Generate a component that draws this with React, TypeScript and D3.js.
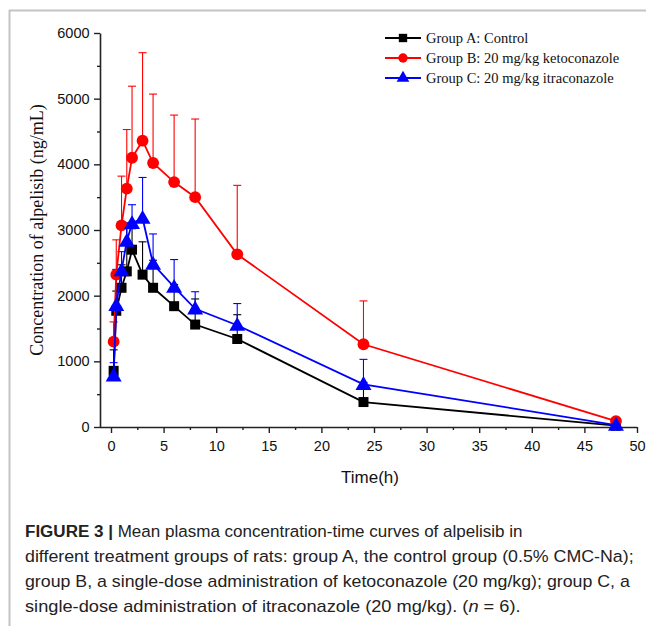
import React, { useEffect, useRef } from 'react';
import * as d3 from 'd3';

// sampling times (h)
const times = [0.25, 0.5, 1, 1.5, 2, 3, 4, 6, 8, 12, 24, 48];

// mean concentrations (ng/mL) and SD
const groupA = [855, 1770, 2120, 2370, 2700, 2320, 2120, 1840, 1560, 1340, 380, 20];
const groupAsd = [320, 300, 350, 730, 320, 500, 420, 330, 390, 370, 300, 10];
const groupB = [1300, 2320, 3070, 3630, 4100, 4360, 4020, 3730, 3500, 2630, 1260, 90];
const groupBsd = [300, 530, 750, 900, 1090, 1340, 1050, 1020, 1190, 1050, 660, 0];
const groupC = [780, 1850, 2380, 2830, 3100, 3180, 2480, 2130, 1800, 1550, 650, 30];
const groupCsd = [200, 550, 290, 280, 285, 620, 460, 420, 260, 330, 380, 10];

const legendLabels = [
	'Group A: Control',
	'Group B: 20 mg/kg ketoconazole',
	'Group C: 20 mg/kg itraconazole',
];
const colors = ['#000000', '#ff0000', '#0000ff'];
const shapes = [d3.symbolSquare, d3.symbolCircle, d3.symbolTriangle];
const symbolSizes = [100, 110, 110];

const xTicks = [0, 5, 10, 15, 20, 25, 30, 35, 40, 45, 50];
const yTicks = [0, 1000, 2000, 3000, 4000, 5000, 6000];

const captionLines = [
	'Mean plasma concentration-time curves of alpelisib in',
	'different treatment groups of rats: group A, the control group (0.5% CMC-Na);',
	'group B, a single-dose administration of ketoconazole (20 mg/kg); group C, a',
	'single-dose administration of itraconazole (20 mg/kg). (',
];
// right end of each caption line in the figure
const captionEnds = [523, 634, 630, 521];

const App = () => {
	const chart = useRef<SVGSVGElement>(null);

	useEffect(() => {
		const svg = d3.select(chart.current);
		svg.selectAll('*').remove();

		const x = d3.scaleLinear().domain([0, 50]).range([111, 637]);
		const y = d3.scaleLinear().domain([0, 6000]).range([427, 33]);

		// frame
		svg.append('line').attr('x1', 9.5).attr('x2', 9.5).attr('y1', 10).attr('y2', 626)
			.attr('stroke', '#c4c4c4').attr('stroke-width', 2);
		svg.append('line').attr('x1', 9).attr('x2', 646).attr('y1', 10.5).attr('y2', 10.5)
			.attr('stroke', '#c4c4c4').attr('stroke-width', 2);

		const g = svg.append('g');

		// axes
		const xAxis = d3.axisBottom(x).tickValues(xTicks).tickSize(6).tickSizeOuter(0).tickFormat(d3.format('d'));
		const xMinor = d3.axisBottom(x).tickValues(d3.range(2.5, 50, 5)).tickSize(3).tickFormat(() => '');
		const gx = g.append('g').attr('transform', 'translate(0,427)').call(xAxis);
		g.append('g').attr('transform', 'translate(0,427)').call(xMinor).select('.domain').remove();
		gx.select('.domain').attr('d', 'M100,0.5H637');

		const yAxis = d3.axisLeft(y).tickValues(yTicks).tickSize(6).tickSizeOuter(0).tickFormat(d3.format('d'));
		const yMinor = d3.axisLeft(y).tickValues(d3.range(500, 6000, 1000)).tickSize(3).tickFormat(() => '');
		const gy = g.append('g').attr('transform', 'translate(100,0)').call(yAxis);
		g.append('g').attr('transform', 'translate(100,0)').call(yMinor).select('.domain').remove();

		g.selectAll('.domain').attr('stroke', '#222').attr('stroke-width', 1.6);
		g.selectAll('.tick line').attr('stroke', '#222').attr('stroke-width', 1.4);
		gx.selectAll('.tick text').attr('font-family', 'Liberation Sans, Arial, sans-serif')
			.attr('font-size', 14.5).attr('fill', '#111').attr('dy', '1.05em');
		gy.selectAll('.tick text').attr('font-family', 'Liberation Sans, Arial, sans-serif')
			.attr('font-size', 14.5).attr('fill', '#111').attr('dx', '-0.1em');

		// titles
		svg.append('text').attr('x', 370).attr('y', 483).attr('text-anchor', 'middle')
			.attr('font-family', 'Liberation Sans, Arial, sans-serif').attr('font-size', 17)
			.attr('fill', '#111').text('Time(h)');
		svg.append('text').attr('transform', 'translate(43,230) rotate(-90)').attr('text-anchor', 'middle')
			.attr('font-family', 'Liberation Serif, Times New Roman, serif').attr('font-size', 18)
			.attr('fill', '#111').text('Concentration of alpelisib (ng/mL)');

		const series = [
			{ m: groupA, sd: groupAsd },
			{ m: groupB, sd: groupBsd },
			{ m: groupC, sd: groupCsd },
		];

		// error bars (upper only)
		series.forEach((s, i) => {
			const eb = g.append('g').attr('stroke', colors[i]).attr('stroke-width', 1.1).attr('fill', 'none');
			times.forEach((t, j) => {
				if (s.sd[j] <= 0) return;
				const cx = x(t);
				eb.append('line').attr('x1', cx).attr('x2', cx).attr('y1', y(s.m[j])).attr('y2', y(s.m[j] + s.sd[j]));
				eb.append('line').attr('x1', cx - 4).attr('x2', cx + 4)
					.attr('y1', y(s.m[j] + s.sd[j])).attr('y2', y(s.m[j] + s.sd[j]));
			});
		});

		const line = d3.line<number>().x((d, j) => x(times[j])).y(d => y(d));

		series.forEach((s, i) => {
			g.append('path').datum(s.m).attr('d', line).attr('fill', 'none')
				.attr('stroke', colors[i]).attr('stroke-width', 1.8);
			g.append('g').selectAll('path').data(s.m).join('path')
				.attr('d', d3.symbol().type(shapes[i]).size(symbolSizes[i]))
				.attr('transform', (d, j) => `translate(${x(times[j])},${y(d) + (i === 2 ? 1 : 0)})`)
				.attr('fill', colors[i]);
		});

		// legend
		const lg = svg.append('g').attr('transform', 'translate(385,38)');
		legendLabels.forEach((lab, i) => {
			const row = lg.append('g').attr('transform', `translate(0,${i * 20})`);
			row.append('line').attr('x1', 0).attr('x2', 36).attr('stroke', colors[i]).attr('stroke-width', 1.8);
			row.append('path').attr('d', d3.symbol().type(shapes[i]).size(70)).attr('transform', 'translate(18,0)')
				.attr('fill', colors[i]);
			row.append('text').attr('x', 41).attr('y', 5).attr('font-family', 'Liberation Serif, Times New Roman, serif')
				.attr('font-size', 14.5).attr('fill', '#111').text(lab);
		});

		// caption (condensed face: scale each line horizontally to its width in the figure)
		const cap = svg.append('g').attr('font-family', 'Liberation Sans, Arial, sans-serif')
			.attr('font-size', 17).attr('fill', '#222');
		const baselines = [537, 562, 587, 612];
		const texts = baselines.map(b => cap.append('g').attr('transform', `translate(25,${b})`).append('text'));
		texts[0].append('tspan').attr('font-weight', 'bold').text('FIGURE 3 | ');
		texts[0].append('tspan').text(captionLines[0]);
		texts[1].text(captionLines[1]);
		texts[2].text(captionLines[2]);
		texts[3].append('tspan').text(captionLines[3]);
		texts[3].append('tspan').attr('font-style', 'italic').text('n');
		texts[3].append('tspan').text(' = 6).');
		texts.forEach((t, i) => {
			const w = (t.node() as SVGTextElement).getComputedTextLength();
			const sx = (captionEnds[i] - 25) / w;
			t.attr('transform', `scale(${sx},1)`);
		});
	}, []);

	return (
		<div style={{ position: 'absolute', left: 0, top: 0 }}>
			<svg ref={chart} width={646} height={626} style={{ display: 'block', background: '#fff' }}></svg>
		</div>
	);
};

export default App;
